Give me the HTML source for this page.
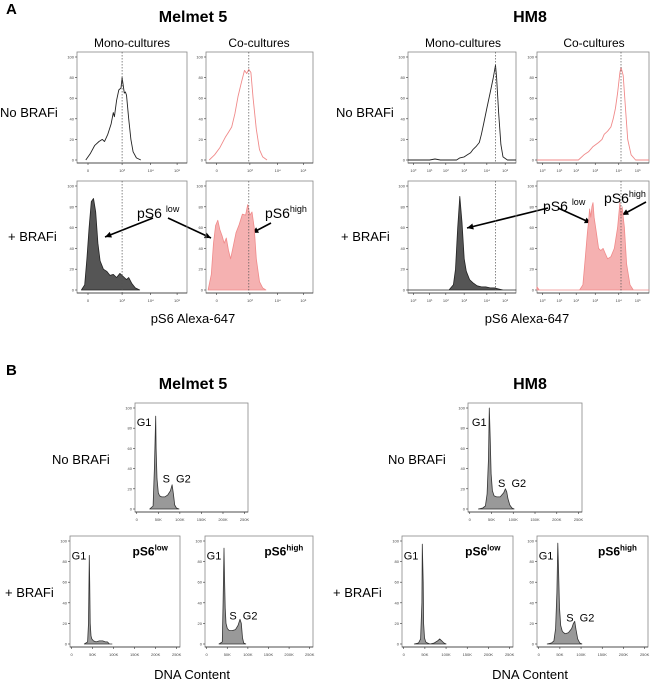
<!DOCTYPE html>
<html><head><meta charset="utf-8"><style>
html,body{margin:0;padding:0;background:#fff;}
svg{display:block;font-family:"Liberation Sans",Arial,sans-serif;}
</style></head><body>
<svg id="fig" width="650" height="694" viewBox="0 0 650 694" xmlns="http://www.w3.org/2000/svg">
<g fill="#000">
<text x="6" y="14" font-size="15" font-weight="bold">A</text>
<text x="193" y="22" font-size="16" font-weight="bold" text-anchor="middle">Melmet 5</text>
<text x="530" y="22" font-size="16" font-weight="bold" text-anchor="middle">HM8</text>
<text x="132" y="47" font-size="12" text-anchor="middle">Mono-cultures</text>
<text x="259" y="47" font-size="12" text-anchor="middle">Co-cultures</text>
<text x="463" y="47" font-size="12" text-anchor="middle">Mono-cultures</text>
<text x="594" y="47" font-size="12" text-anchor="middle">Co-cultures</text>
<text x="0" y="117" font-size="13">No BRAFi</text>
<text x="336" y="117" font-size="13">No BRAFi</text>
<text x="8" y="241" font-size="13">+ BRAFi</text>
<text x="341" y="241" font-size="13">+ BRAFi</text>
<text x="193" y="323" font-size="13" text-anchor="middle">pS6 Alexa-647</text>
<text x="527" y="323" font-size="13" text-anchor="middle">pS6 Alexa-647</text>
<text x="137" y="218" font-size="14">pS6 <tspan font-size="9" dy="-6">low</tspan></text>
<text x="265" y="218" font-size="14">pS6<tspan font-size="9" dy="-6">high</tspan></text>
<text x="543" y="211" font-size="14">pS6 <tspan font-size="9" dy="-6">low</tspan></text>
<text x="604" y="203" font-size="14">pS6<tspan font-size="9" dy="-6">high</tspan></text>

<text x="6" y="375" font-size="15" font-weight="bold">B</text>
<text x="193" y="389" font-size="16" font-weight="bold" text-anchor="middle">Melmet 5</text>
<text x="530" y="389" font-size="16" font-weight="bold" text-anchor="middle">HM8</text>
<text x="52" y="464" font-size="13">No BRAFi</text>
<text x="388" y="464" font-size="13">No BRAFi</text>
<text x="5" y="597" font-size="13">+ BRAFi</text>
<text x="333" y="597" font-size="13">+ BRAFi</text>
<text x="192" y="679" font-size="13" text-anchor="middle">DNA Content</text>
<text x="530" y="679" font-size="13" text-anchor="middle">DNA Content</text>
</g>
<g id="arrows" stroke="#000" stroke-width="1.6"></g>
<g id="plots"></g>
</svg>
<script>
// ---- data: pS6 histograms (x = % of axis width, y = % of max) ----
const m5MonoTopX = [8,12,16,20,23,25,28,31,33,34,36,38,40,41,43,44,45,47,49,51,54,58];
const m5MonoTopY = [0,6,14,18,20,18,25,35,46,42,58,68,70,80,65,66,63,40,20,8,2,0];
const m5CoTopX = [3,8,13,18,21,24,27,30,33,36,38,40,42,44,47,50,53,57];
const m5CoTopY = [0,5,12,22,27,32,45,62,75,87,84,88,85,60,30,10,3,0];
const m5MonoBotX = [4,7,9,11,13,15,17,19,21,24,27,30,33,36,39,42,45,47,50,53,57];
const m5MonoBotY = [0,5,30,60,85,88,75,45,28,20,18,14,15,12,16,13,10,12,6,2,0];
const m5CoBotX = [2,5,7,9,11,13,15,17,19,21,23,25,28,31,34,37,39,41,43,45,47,50,53,56];
const m5CoBotY = [0,15,45,62,67,58,52,45,50,38,30,40,55,63,73,72,82,72,75,60,30,8,2,0];
const h8MonoTopX = [0,20,25,30,45,48,52,55,58,60,63,66,68,70,73,76,79,81,82,84,86,88,92,100];
const h8MonoTopY = [0,0,1,0,0,2,3,5,7,10,13,17,25,35,50,65,80,92,80,45,15,3,0,0];
const h8CoTopX = [0,37,42,46,50,55,58,60,63,66,68,70,72,74,75,77,79,81,84,88,100];
const h8CoTopY = [0,0,5,8,13,17,20,25,28,32,40,50,65,85,90,82,50,20,5,0,0];
const h8MonoBotX = [0,38,42,44,46,48,50,52,54,57,60,64,68,72,76,80,84,88,100];
const h8MonoBotY = [0,0,5,20,60,90,65,30,18,10,7,4,3,3,2,2,1,0,0];
const h8CoBotX = [0,2,38,41,43,45,46,47,48,49,50,51,53,55,57,59,61,63,66,69,72,74,75,76,78,80,83,86,100];
const h8CoBotY = [3,0,0,5,30,55,65,78,70,80,84,70,55,40,38,40,35,30,32,40,60,84,70,80,60,25,5,0,0];
const pS6DashMelmet = [41, 40];
const pS6DashHM8 = [81, 75];
const yTickLabels = [0,20,40,60,80,100];
const pS6TicksMelmetPos = [10,41,67,91];
const pS6TicksMelmetLbl = ["0","10³","10⁴","10⁵"];
const pS6TicksHM8Pos = [5,20,35,52,73,90];
const pS6TicksHM8Lbl = ["10⁰","10¹","10²","10³","10⁴","10⁵"];
// ---- data: DNA content histograms (x in K units) ----
const dnaTicks = [0,50,100,150,200,250];
const dnaTickLbl = ["0","50K","100K","150K","200K","250K"];
const m5DnaTopX = [30,38,41,44,45,47,50,53,58,65,72,78,82,85,88,92,98];
const m5DnaTopY = [0,3,40,92,60,30,16,13,12,12,14,18,24,15,4,1,0];
const m5DnaLowX = [30,38,40,42,43,44,46,48,52,58,66,74,80,85,90,96];
const m5DnaLowY = [0,2,20,86,60,20,8,5,3,2,3,3,2,2,0,0];
const m5DnaHighX = [30,38,40,42,43,45,47,50,55,62,70,76,81,84,87,90,95];
const m5DnaHighY = [0,2,40,93,70,35,20,15,13,13,14,18,24,20,6,1,0];
const h8DnaTopX = [20,30,36,40,43,45,47,49,52,56,62,70,78,82,85,88,92,97,102];
const h8DnaTopY = [0,1,3,15,50,100,70,35,18,13,12,12,16,20,17,10,4,1,0];
const h8DnaLowX = [25,35,40,43,44,46,47,49,52,56,62,72,80,85,90,95,100];
const h8DnaLowY = [0,1,5,40,97,60,20,6,2,1,0,1,3,5,3,1,0];
const h8DnaHighX = [20,30,36,40,43,45,47,49,52,56,62,70,78,82,85,88,92,97,102];
const h8DnaHighY = [0,1,3,15,50,98,70,35,18,12,10,11,15,20,22,14,5,1,0];

const NS = "http://www.w3.org/2000/svg";
const plots = document.getElementById("plots");
function mk(tag, attrs, parent){ const e=document.createElementNS(NS,tag); for(const k in attrs) e.setAttribute(k,attrs[k]); (parent||plots).appendChild(e); return e; }

function panel(name, b, xs, ys, xDom, style, dash, tickPos, tickLbl, extra){
  const g = mk("g", {});
  
  
  const xS = v => b.x0 + (v - xDom[0])/(xDom[1]-xDom[0])*(b.x1-b.x0);
  const yS = v => b.y1 - 3 - v/100*(b.y1-b.y0-8);
  const frame = mk("rect", {x:b.x0, y:b.y0, width:b.x1-b.x0, height:b.y1-b.y0, fill:"none", stroke:"#888", "stroke-width":"0.8"}, g);
  
  
  // y ticks
  yTickLabels.forEach(t=>{
    const yy = yS(t);
    const l = mk("line", {x1:b.x0-2, x2:b.x0, y1:yy, y2:yy, stroke:"#333", "stroke-width":"0.6"}, g);
    
    
    const tx = mk("text", {x:b.x0-3, y:yy+1.5, "font-size":"4", "text-anchor":"end", fill:"#444"}, g);
    
    
    tx.textContent = t;
  });
  // x axis
  const ax = mk("line", {x1:b.x0, x2:b.x1, y1:b.y1, y2:b.y1, stroke:"#333", "stroke-width":"0.8"}, g);
  
  
  tickPos.forEach((t,i)=>{
    const xx = xS(t);
    const l = mk("line", {x1:xx, x2:xx, y1:b.y1, y2:b.y1+2, stroke:"#333", "stroke-width":"0.6"}, g);
    
    
    const tx = mk("text", {x:xx, y:b.y1+9, "font-size":"4", "text-anchor":"middle", fill:"#444"}, g);
    
    
    tx.textContent = tickLbl[i];
  });
  // curve
  let d = "M" + xs.map((x,i)=> xS(x).toFixed(1)+","+yS(ys[i]).toFixed(1)).join(" L");
  if(style.fill !== "none"){ d += " L"+xS(xs[xs.length-1]).toFixed(1)+","+yS(0).toFixed(1)+" L"+xS(xs[0]).toFixed(1)+","+yS(0).toFixed(1)+" Z"; }
  const p = mk("path", {d:d, fill:style.fill, stroke:style.stroke, "stroke-width":style.w||"1", "stroke-linejoin":"round"}, g);
  
  
  if(dash !== null){
    const xx = xS(dash);
    const dl = mk("line", {x1:xx, x2:xx, y1:b.y0, y2:b.y1, stroke:"#555", "stroke-width":"0.7", "stroke-dasharray":"1.5,1.5"}, g);
    
    
  }
  if(extra) extra(g, xS, yS);
}
function lbl(g, x, y, txt, size, bold, name){
  const t = mk("text", {x:x, y:y, "font-size":size, "font-weight":bold?"bold":"normal"}, g);
  
  
  t.innerHTML = txt;
}
const line = {fill:"none", stroke:"#222", w:"0.9"};
const pinkLine = {fill:"none", stroke:"#f08a8a", w:"0.9"};
const darkFill = {fill:"#555", stroke:"#222", w:"0.8"};
const pinkFill = {fill:"#f5b1b1", stroke:"#f08a8a", w:"0.8"};
const grayFill = {fill:"#999", stroke:"#333", w:"0.8"};

const P = [0,100];
panel("hist-melmet-mono-no-brafi", {x0:77,x1:187,y0:52,y1:163}, m5MonoTopX, m5MonoTopY, P, line, pS6DashMelmet[0], pS6TicksMelmetPos, pS6TicksMelmetLbl);
panel("hist-melmet-co-no-brafi", {x0:206,x1:313,y0:52,y1:163}, m5CoTopX, m5CoTopY, P, pinkLine, pS6DashMelmet[1], pS6TicksMelmetPos, pS6TicksMelmetLbl);
panel("hist-melmet-mono-brafi", {x0:77,x1:187,y0:181,y1:293}, m5MonoBotX, m5MonoBotY, P, darkFill, pS6DashMelmet[0], pS6TicksMelmetPos, pS6TicksMelmetLbl);
panel("hist-melmet-co-brafi", {x0:206,x1:313,y0:181,y1:293}, m5CoBotX, m5CoBotY, P, pinkFill, pS6DashMelmet[1], pS6TicksMelmetPos, pS6TicksMelmetLbl);
panel("hist-hm8-mono-no-brafi", {x0:408,x1:516,y0:52,y1:163}, h8MonoTopX, h8MonoTopY, P, line, pS6DashHM8[0], pS6TicksHM8Pos, pS6TicksHM8Lbl);
panel("hist-hm8-co-no-brafi", {x0:537,x1:649,y0:52,y1:163}, h8CoTopX, h8CoTopY, P, pinkLine, pS6DashHM8[1], pS6TicksHM8Pos, pS6TicksHM8Lbl);
panel("hist-hm8-mono-brafi", {x0:408,x1:516,y0:181,y1:293}, h8MonoBotX, h8MonoBotY, P, darkFill, pS6DashHM8[0], pS6TicksHM8Pos, pS6TicksHM8Lbl);
panel("hist-hm8-co-brafi", {x0:537,x1:649,y0:181,y1:293}, h8CoBotX, h8CoBotY, P, pinkFill, pS6DashHM8[1], pS6TicksHM8Pos, pS6TicksHM8Lbl);

const D = [-4,258];
const phaseLabels = (g1, sg2, tag) => (g, xS, yS) => {
  lbl(g, xS(g1[0]), yS(g1[1]), "G1", "11", false, "g1-label");
  if(sg2) lbl(g, xS(sg2[0]), yS(sg2[1]), "S&#160;&#160;G2", "11", false, "s-g2-label");
  if(tag) lbl(g, xS(tag[0]), yS(tag[1]), tag[2], "12", true, "subset-label");
};
const lowTag = 'pS6<tspan font-size="8" dy="-5">low</tspan>';
const highTag = 'pS6<tspan font-size="8" dy="-5">high</tspan>';
panel("dna-melmet-no-brafi", {x0:135,x1:248,y0:403,y1:512}, m5DnaTopX, m5DnaTopY, D, grayFill, null, dnaTicks, dnaTickLbl, phaseLabels([0,82],[60,26],null));
panel("dna-melmet-ps6-low", {x0:70,x1:180,y0:536,y1:647}, m5DnaLowX, m5DnaLowY, D, grayFill, null, dnaTicks, dnaTickLbl, phaseLabels([0,82],null,[145,86,lowTag]));
panel("dna-melmet-ps6-high", {x0:205,x1:313,y0:536,y1:647}, m5DnaHighX, m5DnaHighY, D, grayFill, null, dnaTicks, dnaTickLbl, phaseLabels([0,82],[55,24],[140,86,highTag]));
panel("dna-hm8-no-brafi", {x0:468,x1:582,y0:403,y1:512}, h8DnaTopX, h8DnaTopY, D, grayFill, null, dnaTicks, dnaTickLbl, phaseLabels([5,82],[65,22],null));
panel("dna-hm8-ps6-low", {x0:402,x1:513,y0:536,y1:647}, h8DnaLowX, h8DnaLowY, D, grayFill, null, dnaTicks, dnaTickLbl, phaseLabels([0,82],null,[145,86,lowTag]));
panel("dna-hm8-ps6-high", {x0:537,x1:648,y0:536,y1:647}, h8DnaHighX, h8DnaHighY, D, grayFill, null, dnaTicks, dnaTickLbl, phaseLabels([0,82],[65,22],[140,86,highTag]));

// annotation arrows
const arrows = document.getElementById("arrows");
function arrow(x1,y1,x2,y2,name){
  const g = mk("g", {}, arrows);
  
  
  mk("line", {x1:x1,y1:y1,x2:x2,y2:y2}, g);
  const a = Math.atan2(y2-y1, x2-x1), L=7, w=0.45;
  const p1=[x2-L*Math.cos(a-w), y2-L*Math.sin(a-w)], p2=[x2-L*Math.cos(a+w), y2-L*Math.sin(a+w)];
  mk("polygon", {points:`${x2},${y2} ${p1[0]},${p1[1]} ${p2[0]},${p2[1]}`, fill:"#000", stroke:"none"}, g);
}
arrow(153,218,105,237,"arrow-ps6-low-melmet-mono");
arrow(168,218,211,238,"arrow-ps6-low-melmet-co");
arrow(271,223,252,233,"arrow-ps6-high-melmet");
arrow(548,208,467,228,"arrow-ps6-low-hm8-mono");
arrow(558,208,591,223,"arrow-ps6-low-hm8-co");
arrow(646,202,622,215,"arrow-ps6-high-hm8");
</script>
</body></html>
